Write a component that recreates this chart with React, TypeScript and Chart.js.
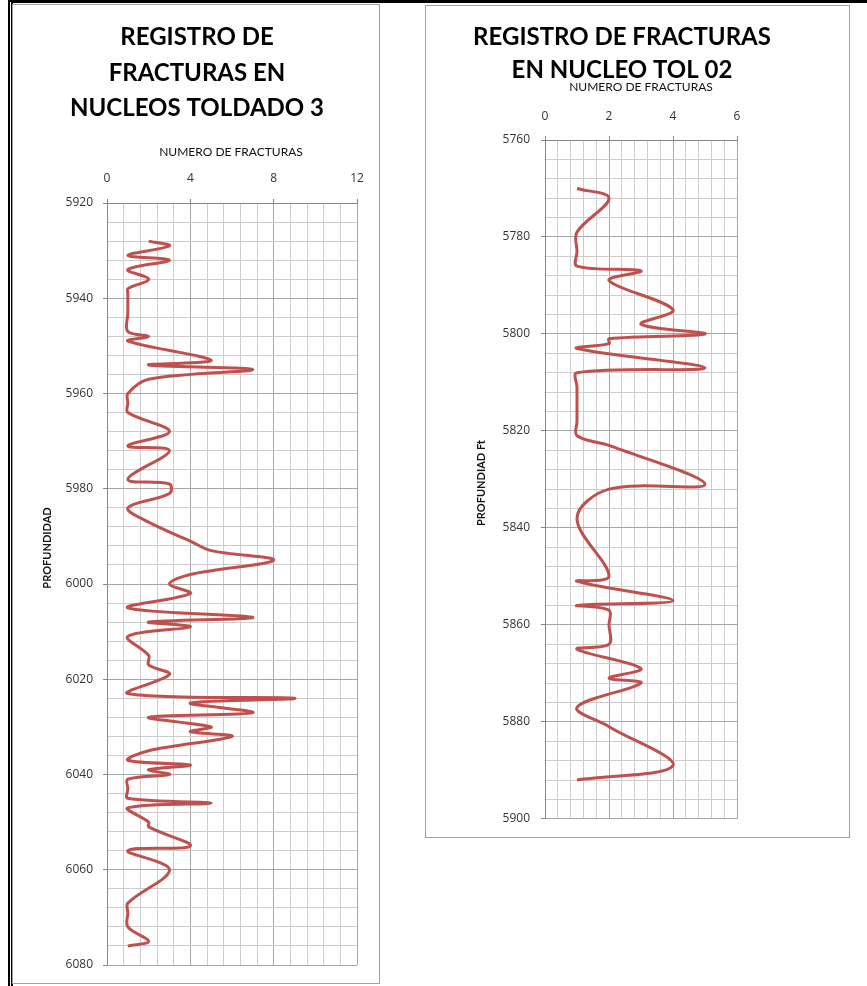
import React, { useEffect, useRef } from 'react';
import { Chart, registerables } from 'chart.js';

Chart.register(...registerables);

// ---------- data ----------
const leftDepth = [5928, 5929, 5931, 5932, 5934, 5936, 5938, 5939, 5943, 5947, 5948, 5949, 5953, 5954, 5955, 5957, 5960, 5962, 5964, 5968, 5971, 5972, 5978, 5979, 5981, 5984, 5987, 5991, 5993, 5995, 5998, 6000, 6002, 6005, 6007, 6008, 6009, 6011, 6015, 6017, 6019, 6023, 6024, 6025, 6027, 6028, 6030, 6031, 6032, 6035, 6037, 6038, 6039, 6040, 6041, 6043, 6045, 6046, 6047, 6050, 6051, 6055, 6056, 6060, 6067, 6069, 6072, 6075, 6076];
const leftFractures = [2, 3, 1, 3, 1, 2, 1, 1, 1, 1, 2, 1, 5, 2, 7, 2, 1, 1, 1, 3, 1, 3, 1, 3, 3, 1, 2, 4, 5, 8, 4, 3, 4, 1, 7, 2, 4, 1, 2, 2, 3, 1, 9, 4, 7, 2, 5, 4, 6, 2, 1, 4, 2, 3, 1, 1, 1, 5, 1, 2, 2, 4, 1, 3, 1, 1, 1, 2, 1];

const rightDepth = [5770, 5772, 5779, 5783, 5786, 5787, 5789, 5795, 5798, 5800, 5801, 5802, 5803, 5807, 5808, 5811, 5815, 5818, 5821, 5823, 5831, 5832, 5838, 5850, 5851, 5855, 5856, 5857, 5860, 5864, 5865, 5869, 5871, 5872, 5877, 5881, 5889, 5892];
const rightFractures = [1, 2, 1, 1, 1, 3, 2, 4, 3, 5, 2, 2, 1, 5, 1, 1, 1, 1, 1, 2, 5, 2, 1, 2, 1, 4, 1, 2, 2, 2, 1, 3, 2, 3, 1, 2, 4, 1];

const leftTitle = ['REGISTRO DE', 'FRACTURAS EN', 'NUCLEOS TOLDADO 3'];
const rightTitle = ['REGISTRO DE FRACTURAS', 'EN NUCLEO TOL 02'];
const xAxisTitle = 'NUMERO DE FRACTURAS';
const leftYTitle = 'PROFUNDIDAD';
const rightYTitle = 'PROFUNDIAD Ft';

const leftXRange = [0, 12];
const leftXStep = 0.8;
const leftYRange = [5920, 6080];
const rightXRange = [0, 6];
const rightXStep = 0.4;
const rightYRange = [5760, 5900];
const yStep = 4;

const LINE_COLOR = '#c0504d';
const MAJOR = '#a6a6a6';
const MINOR = '#cdcdcd';
const AXIS = '#868686';
const TEXT = '#333333';

type PanelOpts = {
  xs: number[];
  ys: number[];
  xRange: number[];
  xStep: number;
  yRange: number[];
  padding: { left: number; right: number; top: number; bottom: number };
  yAxisWidth: number;
  xAxisHeight: number;
  xTickPad: number;
  yTickPad: number;
  title: string[];
  titleX: number;
  titleY: number[];
  axisTitleX: number;
  axisTitleY: number;
  yTitle: string;
  yTitleX: number;
  yTitleY: number;
};

function makeConfig(p: PanelOpts): any {
  const pts = p.xs.map((x, i) => ({ x, y: p.ys[i] }));
  const textPlugin = {
    id: 'panelText',
    afterDraw(chart: any) {
      const ctx = chart.ctx;
      ctx.save();
      ctx.fillStyle = '#000';
      ctx.textAlign = 'center';
      ctx.textBaseline = 'middle';
      ctx.font = '700 24px Lato';
      p.title.forEach((t, i) => ctx.fillText(t, p.titleX, p.titleY[i]));
      ctx.font = '400 12px Lato';
      ctx.fillStyle = '#111';
      ctx.fillText(xAxisTitle, p.axisTitleX, p.axisTitleY);
      ctx.translate(p.yTitleX, p.yTitleY);
      ctx.rotate(-Math.PI / 2);
      ctx.font = '700 11px Lato';
      ctx.fillText(p.yTitle, 0, 0);
      ctx.restore();
    },
  };
  return {
    type: 'scatter',
    data: {
      datasets: [
        {
          data: pts,
          showLine: true,
          borderColor: LINE_COLOR,
          borderWidth: 3,
          pointRadius: 0,
          tension: 0.35,
          fill: false,
        },
      ],
    },
    options: {
      animation: false,
      responsive: false,
      maintainAspectRatio: false,
      layout: { padding: p.padding },
      plugins: { legend: { display: false }, tooltip: { enabled: false }, title: { display: false } },
      scales: {
        x: {
          type: 'linear',
          position: 'top',
          min: p.xRange[0],
          max: p.xRange[1],
          afterFit: (s: any) => {
            s.height = p.xAxisHeight;
          },
          ticks: {
            stepSize: p.xStep,
            autoSkip: false,
            maxRotation: 0,
            padding: p.xTickPad,
            color: TEXT,
            font: { family: 'Open Sans', size: 12 },
            callback: (v: any, i: number) => (i % 5 === 0 ? String(Math.round(Number(v))) : ''),
          },
          grid: {
            color: (c: any) => (c.index % 5 === 0 ? MAJOR : MINOR),
            lineWidth: 1,
            tickLength: 4,
            tickColor: (c: any) => (c.index % 5 === 0 ? AXIS : 'rgba(0,0,0,0)'),
          },
          border: { color: AXIS },
        },
        y: {
          type: 'linear',
          reverse: true,
          min: p.yRange[0],
          max: p.yRange[1],
          afterFit: (s: any) => {
            s.width = p.yAxisWidth;
          },
          ticks: {
            stepSize: yStep,
            autoSkip: false,
            padding: p.yTickPad,
            color: TEXT,
            font: { family: 'Open Sans', size: 12 },
            callback: (v: any, i: number) => (i % 5 === 0 ? String(Math.round(Number(v))) : ''),
          },
          grid: {
            color: (c: any) => (c.index % 5 === 0 ? MAJOR : MINOR),
            lineWidth: 1,
            tickLength: 4,
            tickColor: (c: any) => (c.index % 5 === 0 ? AXIS : 'rgba(0,0,0,0)'),
          },
          border: { color: AXIS },
        },
      },
    },
    plugins: [textPlugin],
  };
}

function ChartPanel({ opts, width, height }: { opts: PanelOpts; width: number; height: number }) {
  const ref = useRef<HTMLCanvasElement | null>(null);
  useEffect(() => {
    if (!ref.current) return;
    const chart = new Chart(ref.current, makeConfig(opts));
    return () => chart.destroy();
  }, []);
  return <canvas ref={ref} width={width} height={height} style={{ display: 'block', width, height }} />;
}

const leftOpts: PanelOpts = {
  xs: leftFractures,
  ys: leftDepth,
  xRange: leftXRange,
  xStep: leftXStep,
  yRange: leftYRange,
  padding: { left: 34, right: 22, top: 158, bottom: 18 },
  yAxisWidth: 60,
  xAxisHeight: 40,
  xTickPad: 13,
  yTickPad: 10,
  title: leftTitle,
  titleX: 184,
  titleY: [32, 68, 103],
  axisTitleX: 218,
  axisTitleY: 147,
  yTitle: leftYTitle,
  yTitleX: 34,
  yTitleY: 543,
};

const rightOpts: PanelOpts = {
  xs: rightFractures,
  ys: rightDepth,
  xRange: rightXRange,
  xStep: rightXStep,
  yRange: rightYRange,
  padding: { left: 59, right: 112, top: 94, bottom: 10 },
  yAxisWidth: 60,
  xAxisHeight: 40,
  xTickPad: 12,
  yTickPad: 11,
  title: rightTitle,
  titleX: 196,
  titleY: [31, 64],
  axisTitleX: 215,
  axisTitleY: 81,
  yTitle: rightYTitle,
  yTitleX: 55,
  yTitleY: 477,
};

export default function App() {
  return (
    <div style={{ position: 'absolute', left: 0, top: 0, width: 867, height: 986, background: '#fff', overflow: 'hidden' }}>
      <div
        style={{
          position: 'absolute',
          left: 8,
          top: 0,
          width: 859,
          height: 986,
          borderTop: '3px solid #000',
          borderLeft: '5px double #000',
          boxSizing: 'border-box',
        }}
      />
      <div
        style={{
          position: 'absolute',
          left: 12,
          top: 4,
          width: 368,
          height: 980,
          border: '1px solid #a0a0a0',
          boxSizing: 'border-box',
          background: '#fff',
        }}
      >
        <ChartPanel opts={leftOpts} width={366} height={978} />
      </div>
      <div
        style={{
          position: 'absolute',
          left: 425,
          top: 5,
          width: 425,
          height: 833,
          border: '1px solid #a0a0a0',
          boxSizing: 'border-box',
          background: '#fff',
        }}
      >
        <ChartPanel opts={rightOpts} width={423} height={831} />
      </div>
    </div>
  );
}
